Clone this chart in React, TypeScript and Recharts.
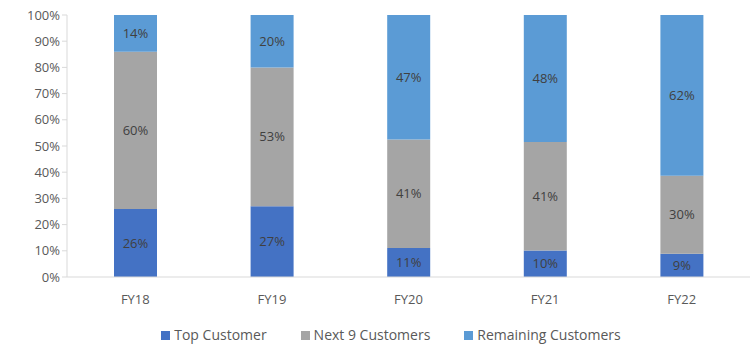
import { BarChart, Bar, XAxis, YAxis, LabelList, Legend } from 'recharts';

const years = ['FY18', 'FY19', 'FY20', 'FY21', 'FY22'];
const topCustomer = [26, 27, 11, 10, 9];
const next9Customers = [60, 53, 41, 41, 30];
const remainingCustomers = [14, 20, 47, 48, 62];
const yTicks = [0, 0.1, 0.2, 0.3, 0.4, 0.5, 0.6, 0.7, 0.8, 0.9, 1];

const SERIES = [
  { key: 'top', name: 'Top Customer', color: '#4472C4' },
  { key: 'next', name: 'Next 9 Customers', color: '#A5A5A5' },
  { key: 'rest', name: 'Remaining Customers', color: '#5B9BD5' },
];

const data = years.map((year, i) => ({
  year,
  top: topCustomer[i],
  next: next9Customers[i],
  rest: remainingCustomers[i],
}));

const FONT = '"Open Sans", sans-serif';

function LegendContent() {
  return (
    <div style={{ display: 'flex', justifyContent: 'center', gap: 34, paddingLeft: 32, fontFamily: FONT, fontSize: 14, color: '#595959', height: 18, lineHeight: '18px' }}>
      {SERIES.map(s => (
        <span key={s.key} style={{ display: 'flex', alignItems: 'center' }}>
          <span style={{ width: 9, height: 9, background: s.color, marginRight: 4, display: 'inline-block' }} />
          {s.name}
        </span>
      ))}
    </div>
  );
}

export default function App() {
  return (
    <div style={{ position: 'absolute', left: 0, top: 0, width: 750, height: 344, background: '#fff' }}>
      <BarChart
        width={750}
        height={344}
        data={data}
        stackOffset="expand"
        barSize={43}
        margin={{ top: 15, right: 0, bottom: 0, left: 0 }}
      >
        <XAxis
          dataKey="year"
          axisLine={{ stroke: '#D9D9D9' }}
          tickLine={false}
          tick={{ fill: '#595959', fontSize: 13, fontFamily: FONT }}
          tickMargin={12}
          height={49}
        />
        <YAxis
          domain={[0, 1]}
          ticks={yTicks}
          tickFormatter={(v: number) => `${Math.round(v * 100)}%`}
          axisLine={{ stroke: '#D9D9D9' }}
          tickLine={{ stroke: '#D9D9D9' }}
          tickSize={5}
          tick={{ fill: '#595959', fontSize: 13, fontFamily: FONT }}
          width={67}
        />
        <Legend content={<LegendContent />} verticalAlign="bottom" wrapperStyle={{ bottom: 0 }} />
        {SERIES.map(s => (
          <Bar key={s.key} dataKey={s.key} name={s.name} stackId="a" fill={s.color} isAnimationActive={false}>
            <LabelList
              dataKey={s.key}
              position="center"
              formatter={(v: any) => `${v}%`}
              style={{ fill: '#404040', fontSize: 13, fontFamily: FONT }}
            />
          </Bar>
        ))}
      </BarChart>
    </div>
  );
}
